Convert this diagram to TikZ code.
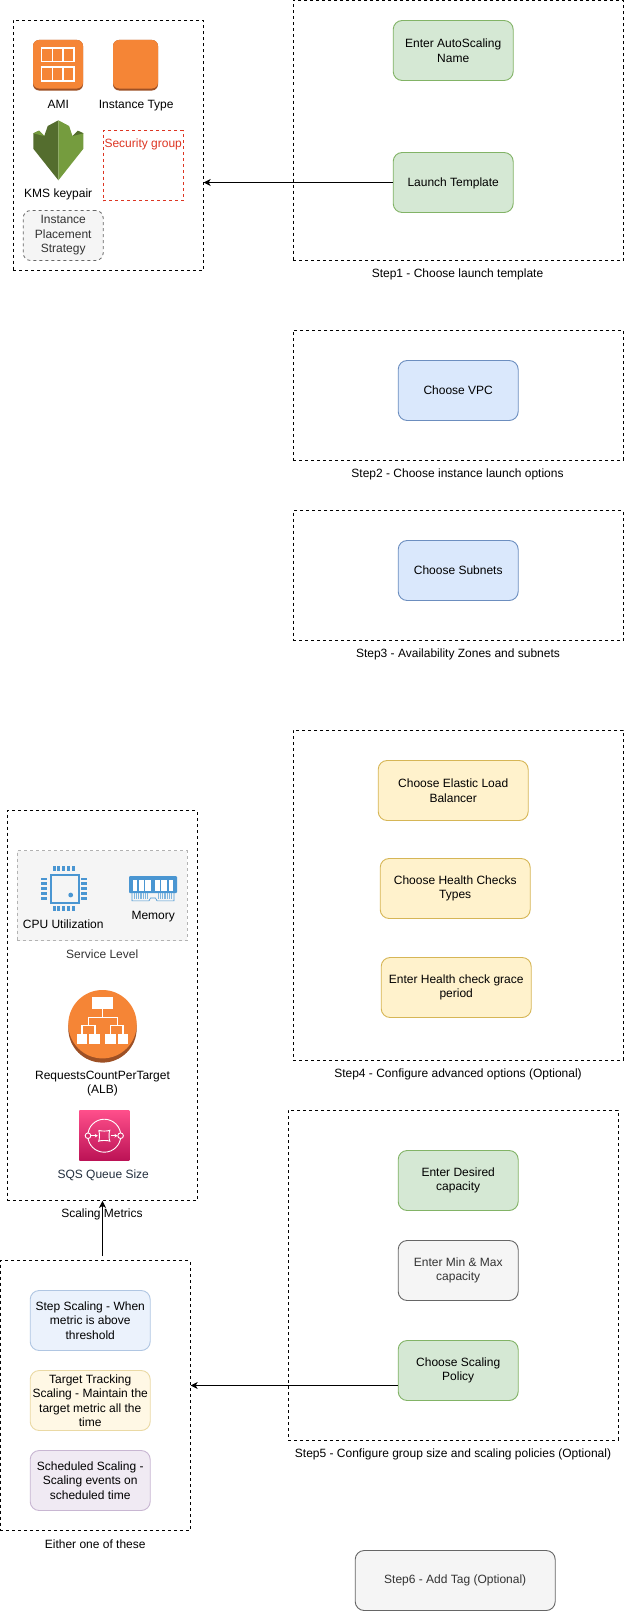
\documentclass[tikz,border=0pt]{standalone}
\usepackage{fontspec}
\setmainfont{Liberation Sans}
\usetikzlibrary{arrows.meta}
\definecolor{greenfill}{HTML}{D5E8D4}
\definecolor{greenline}{HTML}{82B366}
\definecolor{bluefill}{HTML}{DAE8FC}
\definecolor{blueline}{HTML}{6C8EBF}
\definecolor{yellowfill}{HTML}{FFF2CC}
\definecolor{yellowline}{HTML}{D6B656}
\definecolor{grayfill}{HTML}{F5F5F5}
\definecolor{grayline}{HTML}{666666}
\definecolor{graytext}{HTML}{333333}
\definecolor{paleblue}{HTML}{EBF2FC}
\definecolor{palebluel}{HTML}{B0C6E2}
\definecolor{paleyellow}{HTML}{FFF8E5}
\definecolor{paleyellowl}{HTML}{EAD9A4}
\definecolor{palepurple}{HTML}{F0EAF3}
\definecolor{palepurplel}{HTML}{C8B6D2}
\definecolor{sgred}{HTML}{DD3522}
\definecolor{awsorange}{HTML}{F58536}
\definecolor{awsdark}{HTML}{9D5025}
\definecolor{chipblue}{HTML}{4A96D2}
\definecolor{kmsdark}{HTML}{546D2E}
\definecolor{kmslight}{HTML}{759C3E}
\definecolor{sqsdark}{HTML}{232F3E}
\definecolor{sqstop}{HTML}{FF4F8B}
\definecolor{sqsbottom}{HTML}{BC1356}
\tikzset{
  lbl/.style={inner sep=0pt, align=center, font=\fontsize{12}{14.5}\selectfont},
  lowlbl/.style={execute at begin node={\rule{0pt}{11pt}}},
  stepgroup/.style={draw=black, dash pattern=on 3pt off 3pt, line width=.9pt, inner sep=0pt},
  task/.style={lbl, draw, rounded corners=9pt, line width=.9pt, minimum width=120pt, minimum height=60pt},
  greentask/.style={task, fill=greenfill, draw=greenline},
  bluetask/.style={task, fill=bluefill, draw=blueline},
  yellowtask/.style={task, fill=yellowfill, draw=yellowline, minimum width=150pt},
  graytask/.style={task, fill=grayfill, draw=grayline, text=graytext},
  flow/.style={draw=black, line width=.9pt, -{Stealth[length=7pt,width=7pt,inset=2pt]}}
}
\begin{document}
\begin{tikzpicture}[x=1pt, y=-1pt]
      \useasboundingbox (0,0) rectangle (624,1611);
      % step groups
      \node[stepgroup, minimum width=330, minimum height=260] (stepone) at (458.2,130.5) {};
      \node[stepgroup, minimum width=330, minimum height=130] (steptwo) at (458.2,395) {};
      \node[stepgroup, minimum width=330, minimum height=130] (stepthree) at (458.2,575.5) {};
      \node[stepgroup, minimum width=330, minimum height=330] (stepfour) at (458.2,895) {};
      \node[stepgroup, minimum width=330, minimum height=330] (stepfive) at (453.2,1275) {};
      \node[stepgroup, minimum width=190, minimum height=250] (launchgroup) at (108.2,145.5) {};
      \node[stepgroup, minimum width=190, minimum height=390] (metricsgroup) at (102.2,1005.5) {};
      \node[stepgroup, minimum width=190, minimum height=270] (eithergroup) at (95.2,1395.5) {};
      % captions
      \node[lbl] (captionone) at (457.5,274) {Step1 - Choose launch template};
      \node[lbl] (captiontwo) at (457.5,474.5) {Step2 - Choose instance launch options};
      \node[lbl] (captionthree) at (458,654.5) {Step3 - Availability Zones and subnets};
      \node[lbl] (captionfour) at (458,1074.2) {Step4 - Configure advanced options (Optional)};
      \node[lbl] (captionfive) at (453,1454.5) {Step5 - Configure group size and scaling policies (Optional)};
      \node[lbl] (captionmetrics) at (102,1214.5) {Scaling Metrics};
      \node[lbl] (captioneither) at (95.2,1544) {Either one of these};
      % tasks
      \node[greentask] (autoscalingname) at (453.2,50.5) {Enter AutoScaling\\Name};
      \node[greentask, lowlbl] (launchtemplate) at (453.2,182.5) {Launch Template};
      \node[bluetask] (choosevpc) at (458.2,390.5) {Choose VPC};
      \node[bluetask] (choosesubnets) at (458.2,570.5) {Choose Subnets};
      \node[yellowtask] (chooseelb) at (453.2,790.5) {Choose Elastic Load\\Balancer};
      \node[yellowtask] (choosehealth) at (455.2,888.5) {Choose Health Checks\\Types};
      \node[yellowtask] (entergrace) at (456.2,987.5) {Enter Health check grace\\period};
      \node[greentask, lowlbl] (enterdesired) at (458.2,1180.5) {Enter Desired\\capacity};
      \node[graytask, lowlbl] (enterminmax) at (458.2,1270.5) {Enter Min \& Max\\capacity};
      \node[greentask, lowlbl] (choosepolicy) at (458.2,1370.5) {Choose Scaling\\Policy};
      \node[graytask, minimum width=200] (stepsix) at (455.2,1580.5) {Step6 - Add Tag (Optional)};
      \node[task, fill=paleblue, draw=palebluel] (stepscaling) at (90.2,1320.5) {Step Scaling - When\\metric is above\\threshold};
      \node[task, fill=paleyellow, draw=paleyellowl] (targetscaling) at (90.2,1400.5) {Target Tracking\\Scaling - Maintain the\\target metric all the\\time};
      \node[task, fill=palepurple, draw=palepurplel] (scheduledscaling) at (90.2,1480.5) {Scheduled Scaling -\\Scaling events on\\scheduled time};
      % launch template group
      \node[lbl] (amilabel) at (58.2,104.5) {AMI};
      \node[lbl] (typelabel) at (136.2,105.5) {Instance Type};
      \node[lbl] (kmslabel) at (58.2,194) {KMS keypair};
      \node[draw=sgred, dash pattern=on 3pt off 3pt, line width=.8pt, minimum width=80, minimum height=70] (securitygroup) at (143.2,165.5) {};
      \node[lbl, text=sgred] (securitylabel) at (143.2,144.5) {Security group};
      \node[lbl, lowlbl, draw=grayline, fill=grayfill, text=graytext, dash pattern=on 3pt off 3pt, rounded corners=7.5pt, line width=.8pt, minimum width=80, minimum height=50] (placement) at (63.2,235.5) {Instance\\Placement\\Strategy};
      % AMI icon
      \fill[rounded corners=6pt, awsdark] (33,40) rectangle (83,90.5);
      \fill[rounded corners=6pt, awsorange] (33,40) rectangle (83,88.5);
      \foreach \row in {47.7,67} {
        \draw[white, line width=1.7pt] (41.5,\row) rectangle (73.8,\row+13.8);
        \draw[white, line width=1.3pt] (52.3,\row) -- (52.3,\row+13.8) (63,\row) -- (63,\row+13.8);
      }
      % instance type icon
      \fill[rounded corners=6pt, awsdark] (113,40) rectangle (158,90.5);
      \fill[rounded corners=6pt, awsorange] (113,40) rectangle (158,88.5);
      % KMS shield
      \fill[kmsdark] (58.4,120.3) -- (47.7,126) -- (44.3,136) -- (39,130.7) -- (33.3,133.3) -- (33.3,148.7) -- (58.4,180.3) -- cycle;
      \fill[kmslight] (58.4,120.3) -- (69.1,126) -- (72.5,136) -- (77.8,130.7) -- (83.4,133.3) -- (83.4,148.7) -- (58.4,180.3) -- cycle;
      \fill[kmslight] (33.3,133.3) -- (39,130.7) -- (44.3,136) -- cycle;
      \fill[kmsdark] (83.4,133.3) -- (77.8,130.7) -- (72.5,136) -- cycle;
      % service level panel
      \node[draw=black!30, fill=grayfill, dash pattern=on 3pt off 3pt, line width=.9pt, minimum width=170, minimum height=90] (servicepanel) at (102.2,895.5) {};
      \node[lbl, text=graytext] (servicelabel) at (102.2,954) {Service Level};
      \node[lbl] (cpulabel) at (63.2,924) {CPU Utilization};
      \node[lbl] (memorylabel) at (153.2,916.5) {Memory};
      % CPU chip
      \draw[chipblue, line width=2pt] (50.5,874.5) rectangle (78.5,902.5);
      \fill[chipblue] (70.7,895) circle (2.4);
      \foreach \pin in {0,...,4} {
        \fill[chipblue] (52.6+\pin*4.8,866) rectangle (55.6+\pin*4.8,871);
        \fill[chipblue] (52.6+\pin*4.8,905.5) rectangle (55.6+\pin*4.8,910.5);
        \fill[chipblue] (41,877.6+\pin*4.8) rectangle (46.5,880.3+\pin*4.8);
        \fill[chipblue] (81,877.6+\pin*4.8) rectangle (86.5,880.3+\pin*4.8);
      }
      % memory stick
      \fill[chipblue, rounded corners=1pt] (129,876) rectangle (177,893);
      \foreach \xa/\xb in {132.7/137.3, 138.5/144, 145.3/150.7, 155/160, 161.3/167.3, 168.7/173.3}
        \fill[white] (\xa,880) rectangle (\xb,890.7);
      \draw[chipblue, line width=.6pt] (132,893) -- (132,900.8) -- (149,900.8) -- (150.5,898) -- (155.5,898) -- (157,900.8) -- (174,900.8) -- (174,893);
      \foreach \tick in {0,...,7} {
        \draw[chipblue!70, line width=.5pt] (134.5+\tick*1.8,893) -- (134.5+\tick*1.8,899);
        \draw[chipblue!70, line width=.5pt] (158.5+\tick*1.8,893) -- (158.5+\tick*1.8,899);
      }
      % ALB icon
      \fill[awsdark] (102.5,1028.4) circle (34.2);
      \fill[awsorange] (102.5,1024.2) circle (34.2);
      \fill[white] (92.3,997.3) rectangle (113.3,1009);
      \draw[white, line width=1.1pt] (102.8,1009) -- (102.8,1017.3) (88.5,1025.7) -- (88.5,1017.3) -- (117.2,1017.3) -- (117.2,1025.7);
      \draw[white, line width=1.1pt] (82,1034) -- (82,1025.7) -- (95,1025.7) -- (95,1034);
      \draw[white, line width=1.1pt] (110.3,1034) -- (110.3,1025.7) -- (123,1025.7) -- (123,1034);
      \foreach \xa in {76.7,89.3,105,117.7}
        \fill[white] (\xa,1034) rectangle (\xa+10.7,1044.3);
      \node[lbl] (alblabel) at (102.5,1083.5) {RequestsCountPerTarget\\(ALB)};
      % SQS icon
      \shade[top color=sqstop, bottom color=sqsbottom] (79.3,1110) rectangle (129.3,1160);
      \draw[white, line width=.9pt] (104.3,1135.7) circle (16.5);
      \draw[white, line width=.9pt] (98.7,1130.3) .. controls (100.5,1131.3) and (108,1131.3) .. (109.8,1130.3) .. controls (108.8,1132) and (108.8,1139.5) .. (109.8,1141.2) .. controls (108,1140.2) and (100.5,1140.2) .. (98.7,1141.2) .. controls (99.7,1139.5) and (99.7,1132) .. (98.7,1130.3);
      \filldraw[draw=white, fill=sqsbottom!60!sqstop, line width=.9pt] (88,1135.7) circle (2.8);
      \filldraw[draw=white, fill=sqsbottom!60!sqstop, line width=.9pt] (120.6,1135.7) circle (2.8);
      \draw[white, line width=.9pt, -{Stealth[length=3pt,width=3.5pt]}] (91,1135.7) -- (97.8,1135.7);
      \draw[white, line width=.9pt, -{Stealth[length=3pt,width=3.5pt]}] (110.7,1135.7) -- (117.5,1135.7);
      \node[lbl, text=sqsdark] (sqslabel) at (103.2,1175) {SQS Queue Size};
      % connectors
      \coordinate (policyout) at ([yshift=-15pt]choosepolicy.west);
      \coordinate (eitherout) at (102.5,1256);
      \draw[flow] (launchtemplate.west) -- (launchtemplate.west -| launchgroup.east);
      \draw[flow] (policyout) -- (policyout -| eithergroup.east);
      \draw[flow] (eitherout) -- (eitherout |- metricsgroup.south);
\end{tikzpicture}
\end{document}
